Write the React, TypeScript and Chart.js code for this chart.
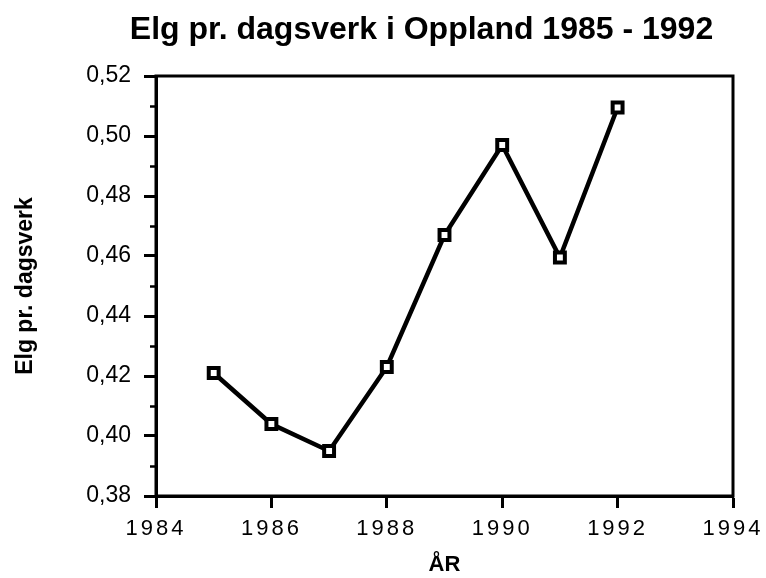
import React, { useEffect, useRef } from "react";
import { Chart, registerables } from "chart.js";

Chart.register(...registerables);

const TITLE = "Elg pr. dagsverk i Oppland 1985 - 1992";
const X_TITLE = "ÅR";
const Y_TITLE = "Elg pr. dagsverk";
const YEARS = [1985, 1986, 1987, 1988, 1989, 1990, 1991, 1992];
const VALUES = [0.421, 0.404, 0.395, 0.423, 0.467, 0.497, 0.4595, 0.5095];
const X_MIN = 1984;
const X_MAX = 1994;
const X_STEP = 2;
const Y_MIN = 0.38;
const Y_MAX = 0.52;
const Y_STEP = 0.02;

const FONT = "'Liberation Sans', Arial, Helvetica, sans-serif";

const framePlugin = {
  id: "frameAndTitle",
  beforeDraw(chart: any) {
    const sc: any = chart.scales.x;
    if (sc && !sc.__patched) {
      const orig = sc.drawLabels.bind(sc);
      sc.drawLabels = (area: any) => {
        const ctx = chart.ctx;
        ctx.save();
        (ctx as any).letterSpacing = "3px";
        orig(area);
        ctx.restore();
      };
      sc.__patched = true;
    }
  },
  afterDraw(chart: any) {
    const ctx = chart.ctx;
    const a = chart.chartArea;
    ctx.save();
    ctx.strokeStyle = "#000";
    ctx.lineWidth = 3;
    ctx.strokeRect(a.left, a.top, a.right - a.left, a.bottom - a.top);
    // minor ticks on y axis (midpoints between major ticks)
    const ys = chart.scales.y;
    const ticks = ys.ticks;
    ctx.lineWidth = 2.5;
    for (let i = 0; i < ticks.length - 1; i++) {
      const mid = (ticks[i].value + ticks[i + 1].value) / 2;
      const py = Math.round(ys.getPixelForValue(mid)) + 0.5;
      ctx.beginPath();
      ctx.moveTo(a.left - 6, py);
      ctx.lineTo(a.left, py);
      ctx.stroke();
    }
    // title
    ctx.fillStyle = "#000";
    ctx.font = `bold 32px ${FONT}`;
    ctx.textAlign = "center";
    ctx.textBaseline = "alphabetic";
    ctx.fillText(TITLE, (a.left + a.right) / 2 - 23, 39);
    ctx.restore();
  },
};

export default function App() {
  const ref = useRef<HTMLCanvasElement | null>(null);

  useEffect(() => {
    if (!ref.current) return;
    const points = YEARS.map((x, i) => ({ x, y: VALUES[i] }));
    const chart = new Chart(ref.current, {
      type: "line",
      data: {
        datasets: [
          {
            data: points,
            borderColor: "#000",
            borderWidth: 4.5,
            tension: 0,
            pointStyle: "rect",
            pointRadius: 7,
            pointBorderWidth: 4,
            pointBackgroundColor: "#fff",
            pointBorderColor: "#000",
          },
          {
            data: points,
            showLine: false,
            pointStyle: "rect",
            pointRadius: 1.5,
            pointBorderWidth: 0,
            pointBackgroundColor: "#000",
            pointBorderColor: "#000",
          },
        ],
      },
      options: {
        responsive: false,
        animation: false,
        events: [],
        layout: { padding: { left: 0, right: 33, top: 76, bottom: 0 } },
        plugins: {
          legend: { display: false },
          tooltip: { enabled: false },
          title: { display: false },
        },
        scales: {
          x: {
            type: "linear",
            min: X_MIN,
            max: X_MAX,
            afterFit: (s: any) => {
              s.height = 82;
            },
            ticks: {
              stepSize: X_STEP,
              color: "#000",
              padding: 8,
              font: { family: FONT, size: 22 },
              callback: (v: any) => String(v),
              maxRotation: 0,
            },
            grid: {
              drawOnChartArea: false,
              drawTicks: true,
              tickLength: 12,
              tickWidth: 3,
              tickColor: "#000",
              color: "#000",
            },
            border: { display: true, color: "#000", width: 3 },
            title: {
              display: true,
              text: X_TITLE,
              color: "#000",
              font: { family: FONT, size: 22, weight: "bold" },
              padding: { top: 0, bottom: 0 },
            },
          },
          y: {
            type: "linear",
            min: Y_MIN,
            max: Y_MAX,
            afterFit: (s: any) => {
              s.width = 156;
            },
            ticks: {
              stepSize: Y_STEP,
              color: "#000",
              padding: 13,
              font: { family: FONT, size: 23 },
              callback: (v: any) => Number(v).toFixed(2).replace(".", ","),
            },
            grid: {
              drawOnChartArea: false,
              drawTicks: true,
              tickLength: 12,
              tickWidth: 3,
              tickColor: "#000",
              color: "#000",
            },
            border: { display: true, color: "#000", width: 3 },
            title: {
              display: true,
              text: Y_TITLE,
              color: "#000",
              font: { family: FONT, size: 23, weight: "bold" },
              padding: { top: 12, bottom: 0 },
            },
          },
        },
      },
      plugins: [framePlugin],
    });
    return () => chart.destroy();
  }, []);

  return (
    <div style={{ position: "absolute", left: 0, top: 0, width: 766, height: 578, background: "#fff" }}>
      <canvas ref={ref} width={766} height={578} />
    </div>
  );
}
